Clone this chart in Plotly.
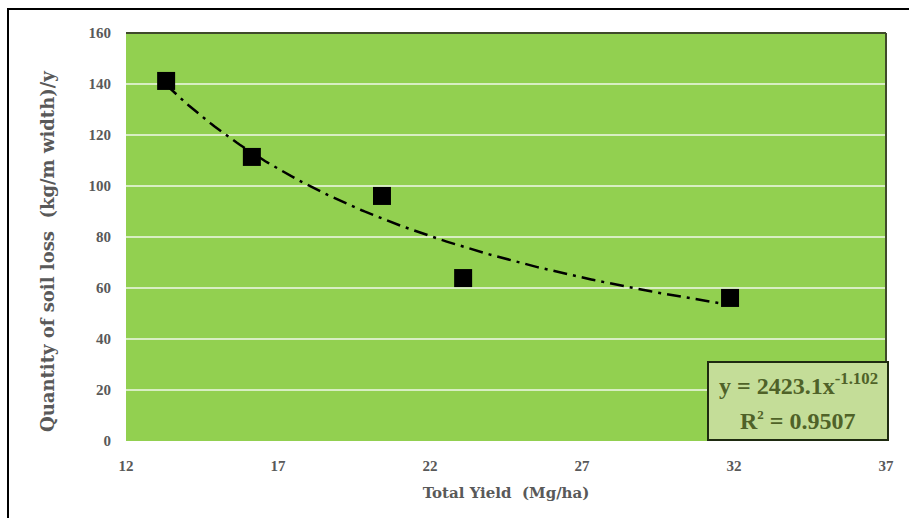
import numpy as np
import plotly.graph_objects as go

# Measured soil loss against total yield
total_yield = [13.32, 16.14, 20.42, 23.09, 31.87]
soil_loss = [141.2, 111.4, 96.1, 63.9, 56.1]

# Power-law trend: y = a * x^b
coef_a = 2423.1
coef_b = -1.102
r_squared = 0.9507

x_ticks = [12, 17, 22, 27, 32, 37]
y_ticks = [0, 20, 40, 60, 80, 100, 120, 140, 160]

W, H = 909, 518
L, R, T, B = 126, 23, 33, 77
pw, ph = W - L - R, H - T - B


def px_x(p):
    return (p - L) / pw


def px_y(p):
    return (H - B - p) / ph


trend_x = np.linspace(min(total_yield), max(total_yield), 200)
trend_y = coef_a * trend_x ** coef_b

serif = "Liberation Serif, Times New Roman, serif"
wide_serif = "DejaVu Serif, serif"
gray = "#595959"

fig = go.Figure()
fig.add_trace(go.Scatter(
    x=trend_x, y=trend_y, mode="lines",
    line=dict(color="black", width=2.5, dash="14px,6px,3px,6px"),
    hoverinfo="skip", showlegend=False,
))
fig.add_trace(go.Scatter(
    x=total_yield, y=soil_loss, mode="markers",
    marker=dict(symbol="square", size=18, color="black"),
    showlegend=False,
))

fig.update_layout(
    width=W, height=H,
    margin=dict(l=L, r=R, t=T, b=B),
    paper_bgcolor="white",
    plot_bgcolor="#92D050",
    xaxis=dict(
        range=[12, 37], tickvals=x_ticks, ticktext=[str(v) for v in x_ticks],
        showgrid=False, zeroline=False, showline=False, ticks="",
        ticklabelstandoff=14,
        tickfont=dict(family=serif, size=15, color=gray, weight="bold"),
        title=dict(text="<b>Total Yield  (Mg/ha)</b>",
                   font=dict(family=wide_serif, size=15, color=gray), standoff=14),
    ),
    yaxis=dict(
        range=[0, 160], tickvals=y_ticks, ticktext=[str(v) for v in y_ticks],
        showgrid=True, gridcolor="#D8EEC2", gridwidth=2,
        zeroline=False, showline=False, ticks="",
        ticklabelstandoff=14,
        tickfont=dict(family=serif, size=15, color=gray, weight="bold"),
    ),
    shapes=[
        # dark edge on top and right of plotting area
        dict(type="line", xref="paper", yref="paper", x0=0, x1=1, y0=1, y1=1,
             line=dict(color="#3F4A2A", width=2)),
        dict(type="line", xref="paper", yref="paper", x0=1, x1=1, y0=0, y1=1,
             line=dict(color="#3F4A2A", width=2)),
        # outer frame
        dict(type="rect", xref="paper", yref="paper",
             x0=px_x(8), x1=px_x(920), y0=px_y(9), y1=px_y(530),
             line=dict(color="black", width=2), layer="above"),
        # equation box
        dict(type="rect", xref="paper", yref="paper",
             x0=px_x(708), x1=px_x(888), y0=px_y(440), y1=px_y(362),
             fillcolor="#C4DD98", line=dict(color="#1E2A10", width=2), layer="above"),
    ],
    annotations=[
        # y-axis title
        dict(xref="paper", yref="paper", x=px_x(47), y=px_y(252),
             text="<b>Quantity of soil loss  (kg/m width)/y</b>", textangle=-90,
             showarrow=False, font=dict(family=wide_serif, size=18, color=gray),
             xanchor="center", yanchor="middle"),
        dict(xref="paper", yref="paper", x=px_x(798), y=px_y(384),
             text="<b>y = 2423.1x<sup>-1.102</sup></b>", showarrow=False,
             font=dict(family=serif, size=24, color="#4F6228"),
             xanchor="center", yanchor="middle"),
        dict(xref="paper", yref="paper", x=px_x(798), y=px_y(420),
             text=f"<b>R<sup><span style='font-size:13px'>2</span></sup> = {r_squared}</b>",
             showarrow=False,
             font=dict(family=serif, size=24, color="#4F6228"),
             xanchor="center", yanchor="middle"),
    ],
)

fig.write_html("out.html")
